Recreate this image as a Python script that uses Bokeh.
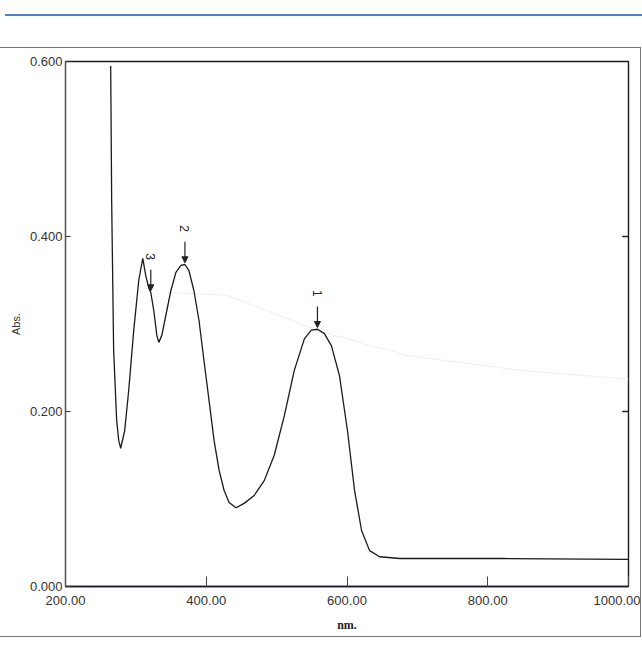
import math
from bokeh.plotting import figure
from bokeh.models import Range1d, FixedTicker, Arrow, NormalHead, Div
from bokeh.layouts import column
from bokeh.core.properties import value
from bokeh.embed import file_html
from bokeh.resources import INLINE

# ---- data ----
wavelength = [264.2, 265.6, 268.4, 272.7, 275.6, 278.4, 284.1, 289.8, 297.0, 304.1,
              309.8, 314.1, 318.4, 321.2, 325.5, 329.8, 332.6, 336.9, 342.6, 349.7,
              356.9, 364.0, 369.7, 375.4, 382.5, 389.7, 396.8, 403.9, 411.1, 418.2,
              425.3, 432.4, 442.4, 453.8, 468.1, 482.4, 496.6, 510.9, 525.1, 539.4,
              549.4, 558.0, 567.9, 577.9, 589.3, 600.7, 610.7, 620.7, 632.1, 646.4,
              674.9, 817.5, 1000.0]
absorbance = [0.595, 0.441, 0.270, 0.190, 0.167, 0.158, 0.178, 0.224, 0.293, 0.350,
              0.375, 0.355, 0.341, 0.336, 0.315, 0.287, 0.279, 0.287, 0.310, 0.338,
              0.359, 0.367, 0.368, 0.361, 0.338, 0.304, 0.258, 0.213, 0.167, 0.133,
              0.110, 0.096, 0.090, 0.095, 0.104, 0.121, 0.150, 0.195, 0.247, 0.283,
              0.293, 0.294, 0.289, 0.275, 0.241, 0.178, 0.110, 0.064, 0.041, 0.034,
              0.032, 0.032, 0.031]

# faint bleed-through trace visible on the scan
ghost_nm = [345.0, 429.6, 556.5, 684.9, 846.0, 1000.0]
ghost_abs = [0.336, 0.333, 0.293, 0.264, 0.247, 0.237]

peak_nm = [558.0, 369.7, 321.2]
peak_abs = [0.294, 0.368, 0.336]
peak_labels = ["1", "2", "3"]

x_ticks = [200, 400, 600, 800, 1000]
x_tick_labels = ["200.00", "400.00", "600.00", "800.00", "1000.00"]
y_ticks = [0.0, 0.2, 0.4, 0.6]
y_tick_labels = ["0.000", "0.200", "0.400", "0.600"]
right_ticks = [0.2, 0.4]

X0, X1 = 200, 1000
FONT = "Liberation Sans"

p = figure(width=640, height=588, x_range=Range1d(X0, X1), y_range=Range1d(0, 0.6),
           output_backend="svg", toolbar_location=None,
           min_border_left=65, min_border_right=12, min_border_top=13, min_border_bottom=50,
           background_fill_color="white", border_fill_color="white")
p.grid.visible = False
p.outline_line_color = "#1a1a1a"
p.outline_line_width = 1.4
p.styles = {"outline": "1px solid #777"}

# x axis
xa = p.xaxis[0]
xa.ticker = FixedTicker(ticks=x_ticks)
xa.major_label_overrides = {t: l for t, l in zip(x_ticks, x_tick_labels)}
xa.major_tick_in = 10
xa.major_tick_out = 0
xa.minor_tick_line_color = None
xa.major_label_standoff = 9
xa.major_label_text_font = FONT
xa.major_label_text_font_size = "13px"
xa.major_label_text_color = "#333333"
xa.axis_line_color = "#1a1a2a"
xa.axis_line_width = 1.4
xa.major_tick_line_color = "#444444"
xa.axis_label = "nm."
xa.axis_label_text_font = "Liberation Serif"
xa.axis_label_text_font_style = "bold"
xa.axis_label_text_font_size = "12px"
xa.axis_label_text_color = "#222222"
xa.axis_label_standoff = 10

# y axis
ya = p.yaxis[0]
ya.ticker = FixedTicker(ticks=y_ticks)
ya.major_label_overrides = {t: l for t, l in zip(y_ticks, y_tick_labels)}
ya.major_tick_in = 5
ya.major_tick_out = 0
ya.minor_tick_line_color = None
ya.major_label_standoff = 3
ya.major_label_text_font = FONT
ya.major_label_text_font_size = "13px"
ya.major_label_text_color = "#333333"
ya.axis_line_color = "#555555"
ya.major_tick_line_color = "#333333"
ya.axis_label = "Abs."
ya.axis_label_text_font = FONT
ya.axis_label_text_font_style = "normal"
ya.axis_label_text_font_size = "11px"
ya.axis_label_text_color = "#333333"
ya.axis_label_standoff = 5

# inward ticks on the right frame edge
tick_len = (X1 - X0) * 0.011
p.segment(x0=[X1] * len(right_ticks), y0=right_ticks,
          x1=[X1 - tick_len] * len(right_ticks), y1=right_ticks,
          line_color="#222222", line_width=1.6)

# ghost trace and spectrum
p.line(ghost_nm, ghost_abs, line_color="#efefef", line_width=1.0)
p.line(wavelength, absorbance, line_color="#1a1a1a", line_width=1.3)

# peak markers
for nm, a in zip(peak_nm, peak_abs):
    p.add_layout(Arrow(end=NormalHead(size=6, fill_color="#222222", line_color="#222222"),
                       x_start=nm, y_start=a + 0.026, x_end=nm, y_end=a + 0.002,
                       line_color="#222222", line_width=1.2))
p.text(x=peak_nm, y=[a + 0.041 for a in peak_abs], text=peak_labels, angle=-math.pi / 2,
       text_font=value(FONT), text_font_size="12px", text_align="center",
       text_baseline="middle", text_color="#222222")

top_line = Div(width=640, height=11, styles={"border-bottom": "2px solid #4f81d0"})
gap = Div(width=640, height=17)
layout = column(top_line, gap, p)

open("out.html", "w").write(file_html(layout, INLINE))
